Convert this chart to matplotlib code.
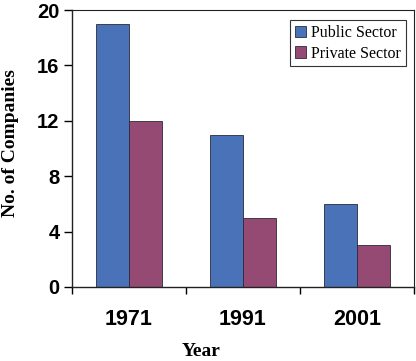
import matplotlib
matplotlib.use("Agg")
import matplotlib.pyplot as plt
import numpy as np

years = ["1971", "1991", "2001"]
public = [19, 11, 6]
private = [12, 5, 3]
yticks = [0, 4, 8, 12, 16, 20]

W, H = 416, 361
fig = plt.figure(figsize=(W/100, H/100), dpi=100)
ax = fig.add_axes([72/W, 1-287/H, (414-72)/W, (287-10)/H])

x = np.arange(len(years))
w = 0.29
ax.bar(x - w/2, public, w, color="#4A72B8", edgecolor="#2a2a3a", linewidth=0.6, label="Public Sector")
ax.bar(x + w/2, private, w, color="#954A74", edgecolor="#2a2a3a", linewidth=0.6, label="Private Sector")

ax.set_xlim(-0.5, 2.5)
ax.set_ylim(0, 20)
ax.set_yticks(yticks)
ax.set_yticklabels([str(v) for v in yticks], fontfamily="Liberation Sans", fontweight="bold", fontsize=14.5)
ax.set_xticks(x)
ax.set_xticklabels(years, fontfamily="Liberation Sans", fontweight="bold", fontsize=15.5)
ax.set_xticks([-0.5, 0.5, 1.5, 2.5], minor=True)
ax.tick_params(axis="x", which="major", length=0, pad=16)
ax.tick_params(axis="x", which="minor", length=5, direction="out", width=1)
ax.tick_params(axis="y", length=6, direction="out", width=1, pad=3)

for s in ax.spines.values():
    s.set_linewidth(0.8)
    s.set_color("#222222")
ax.spines["left"].set_linewidth(1.0)
ax.spines["bottom"].set_linewidth(1.0)

fig.text(201/W, 1-356/H, "Year", fontfamily="Liberation Serif", fontweight="bold", fontsize=14,
         ha="center", va="baseline")
fig.text(11/W, 1-143.5/H, "No. of Companies", fontfamily="Liberation Serif", fontweight="bold", fontsize=14,
         ha="center", va="center", rotation=90)

leg = ax.legend(loc="upper right", bbox_to_anchor=((406-72)/342, 1-(20-10)/277),
                prop={"family": "Liberation Serif", "size": 11.5},
                frameon=True, fancybox=False, edgecolor="black", handlelength=0.7, handleheight=0.7,
                handletextpad=0.35, borderpad=0.3, labelspacing=0.3, borderaxespad=0)
leg.get_frame().set_linewidth(0.8)

fig.savefig("out.png", dpi=100)
